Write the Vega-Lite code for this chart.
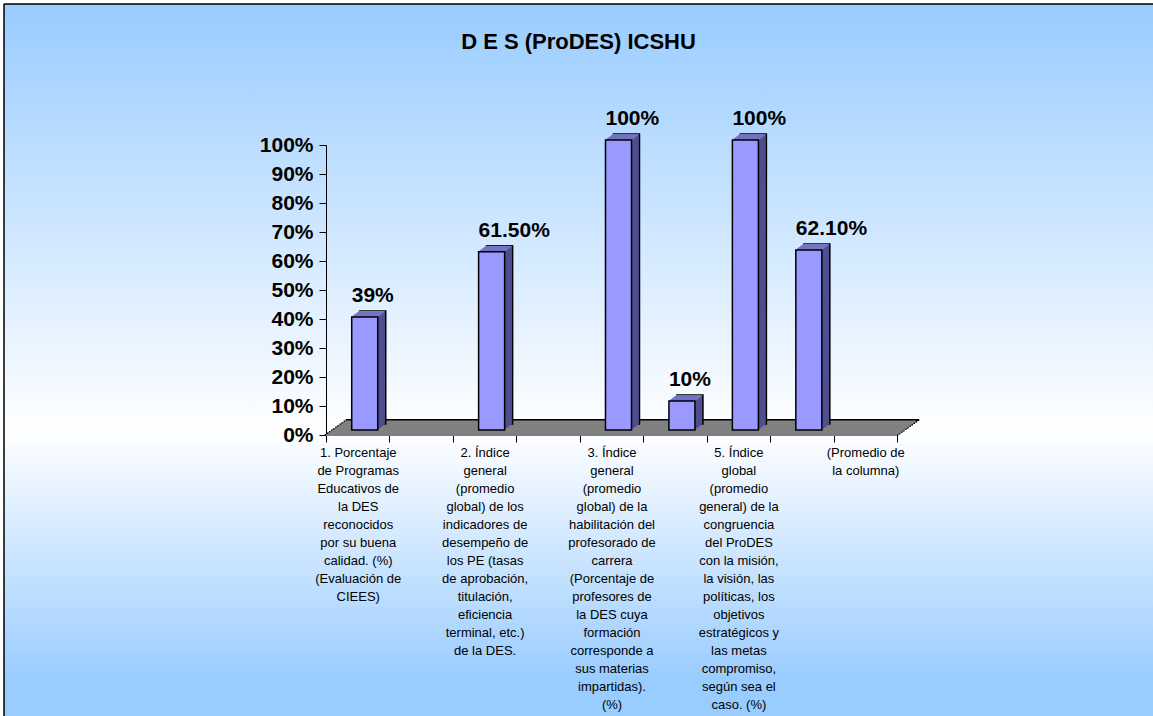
{
"$schema": "https://vega.github.io/schema/vega-lite/v6.json",
"width": 1149, "height": 712,
"autosize": {"type": "none"},
"padding": {"left": 4, "top": 4, "right": 0, "bottom": 0},
"background": "white",
"title": {"text": "D E S (ProDES) ICSHU", "font": "Liberation Sans", "fontSize": 22, "fontWeight": "bold", "color": "black", "anchor": "middle", "offset": -50},
"config": {
 "mark": {"invalid": "break-paths-show-domains"},
 "view": {"fill": {"gradient": "linear", "x1": 0, "y1": 0, "x2": 0, "y2": 1, "stops": [{"offset": 0, "color": "#99CCFF"}, {"offset": 0.6, "color": "#FFFFFF"}, {"offset": 0.95, "color": "#99CCFF"}, {"offset": 1, "color": "#99CCFF"}]}, "stroke": "black", "strokeWidth": 1.5, "strokeDash": [1149, 1861, 712, 0]},
 "axis": {"domainColor": "black", "tickColor": "black", "labelColor": "black", "domainWidth": 1, "tickWidth": 1, "tickSize": 7, "grid": false, "zindex": 1}
},
"data": {"values": [
 {"n": 1, "cat": "1. Porcentaje\nde Programas\nEducativos de\nla DES\nreconocidos\npor su buena\ncalidad. (%)\n(Evaluación de\nCIEES)", "value": 0.39, "label": "39%"},
 {"n": 2, "cat": " ", "value": null, "label": null},
 {"n": 3, "cat": "2. Índice\ngeneral\n(promedio\nglobal)  de los\nindicadores de\ndesempeño de\nlos PE (tasas\nde aprobación,\ntitulación,\neficiencia\nterminal, etc.)\nde la DES.", "value": 0.615, "label": "61.50%"},
 {"n": 4, "cat": "  ", "value": null, "label": null},
 {"n": 5, "cat": "3. Índice\ngeneral\n(promedio\nglobal)  de la\nhabilitación del\nprofesorado de\ncarrera\n(Porcentaje de\nprofesores de\nla DES cuya\nformación\ncorresponde a\nsus materias\nimpartidas).\n(%)", "value": 1.0, "label": "100%"},
 {"n": 6, "cat": "   ", "value": 0.10, "label": "10%"},
 {"n": 7, "cat": "5. Índice\nglobal\n(promedio\ngeneral) de la\ncongruencia\ndel ProDES\ncon la misión,\nla visión, las\npolíticas, los\nobjetivos\nestratégicos y\nlas metas\ncompromiso,\nsegún sea el\ncaso. (%)", "value": 1.0, "label": "100%"},
 {"n": 8, "cat": "    ", "value": 0.621, "label": "62.10%"},
 {"n": 9, "cat": "(Promedio de\nla columna)", "value": null, "label": null}
]},
"encoding": {
 "x": {"field": "cat", "type": "nominal", "sort": {"field": "n", "op": "min", "order": "ascending"}, "title": null,
  "scale": {"range": [322, 893], "paddingInner": 0, "paddingOuter": 0},
  "axis": {"orient": "bottom", "offset": -281, "tickBand": "extent", "labelAngle": 0, "labelFont": "Liberation Sans", "labelFontSize": 13, "labelLineHeight": 18, "labelBaseline": "top", "labelAlign": "center", "labelPadding": 4, "labelOverlap": false, "labelExpr": "split(datum.label, '\\n')"}},
 "y": {"field": "value", "type": "quantitative", "title": null,
  "scale": {"domain": [0, 1], "range": [431, 141], "nice": false, "zero": true},
  "axis": {"offset": -322, "tickCount": 10, "format": ".0%", "labelFont": "Liberation Sans", "labelFontSize": 21, "labelFontWeight": "bold", "labelPadding": 6}}
},
"layer": [
 {"transform": [{"filter": "datum.n == 5"}],
  "encoding": {"y": {"datum": 0, "type": "quantitative", "title": null}},
  "layer": [
  {"mark": {"type": "tick", "orient": "horizontal", "size": 573.5, "thickness": 2.2, "color": "black", "opacity": 1, "xOffset": 21, "yOffset": -15}},
  {"mark": {"type": "tick", "orient": "horizontal", "size": 573.5, "thickness": 2.2, "color": "black", "opacity": 1, "xOffset": 18.9, "yOffset": -13.5}},
  {"mark": {"type": "tick", "orient": "horizontal", "size": 573.5, "thickness": 2.2, "color": "black", "opacity": 1, "xOffset": 16.8, "yOffset": -12}},
  {"mark": {"type": "tick", "orient": "horizontal", "size": 573.5, "thickness": 2.2, "color": "black", "opacity": 1, "xOffset": 14.7, "yOffset": -10.5}},
  {"mark": {"type": "tick", "orient": "horizontal", "size": 573.5, "thickness": 2.2, "color": "black", "opacity": 1, "xOffset": 12.6, "yOffset": -9}},
  {"mark": {"type": "tick", "orient": "horizontal", "size": 573.5, "thickness": 2.2, "color": "black", "opacity": 1, "xOffset": 10.5, "yOffset": -7.5}},
  {"mark": {"type": "tick", "orient": "horizontal", "size": 573.5, "thickness": 2.2, "color": "black", "opacity": 1, "xOffset": 8.4, "yOffset": -6}},
  {"mark": {"type": "tick", "orient": "horizontal", "size": 573.5, "thickness": 2.2, "color": "black", "opacity": 1, "xOffset": 6.3, "yOffset": -4.5}},
  {"mark": {"type": "tick", "orient": "horizontal", "size": 573.5, "thickness": 2.2, "color": "black", "opacity": 1, "xOffset": 4.2, "yOffset": -3}},
  {"mark": {"type": "tick", "orient": "horizontal", "size": 573.5, "thickness": 2.2, "color": "black", "opacity": 1, "xOffset": 2.1, "yOffset": -1.5}},
  {"mark": {"type": "tick", "orient": "horizontal", "size": 573.5, "thickness": 2.2, "color": "black", "opacity": 1, "xOffset": 0, "yOffset": 0}},
  {"mark": {"type": "tick", "orient": "horizontal", "size": 571, "thickness": 2.2, "color": "#808080", "opacity": 1, "xOffset": 18.9, "yOffset": -13.5}},
  {"mark": {"type": "tick", "orient": "horizontal", "size": 571, "thickness": 2.2, "color": "#808080", "opacity": 1, "xOffset": 16.8, "yOffset": -12}},
  {"mark": {"type": "tick", "orient": "horizontal", "size": 571, "thickness": 2.2, "color": "#808080", "opacity": 1, "xOffset": 14.7, "yOffset": -10.5}},
  {"mark": {"type": "tick", "orient": "horizontal", "size": 571, "thickness": 2.2, "color": "#808080", "opacity": 1, "xOffset": 12.6, "yOffset": -9}},
  {"mark": {"type": "tick", "orient": "horizontal", "size": 571, "thickness": 2.2, "color": "#808080", "opacity": 1, "xOffset": 10.5, "yOffset": -7.5}},
  {"mark": {"type": "tick", "orient": "horizontal", "size": 571, "thickness": 2.2, "color": "#808080", "opacity": 1, "xOffset": 8.4, "yOffset": -6}},
  {"mark": {"type": "tick", "orient": "horizontal", "size": 571, "thickness": 2.2, "color": "#808080", "opacity": 1, "xOffset": 6.3, "yOffset": -4.5}},
  {"mark": {"type": "tick", "orient": "horizontal", "size": 571, "thickness": 2.2, "color": "#808080", "opacity": 1, "xOffset": 4.2, "yOffset": -3}},
  {"mark": {"type": "tick", "orient": "horizontal", "size": 571, "thickness": 2.2, "color": "#808080", "opacity": 1, "xOffset": 2.1, "yOffset": -1.5}},
  {"mark": {"type": "tick", "orient": "horizontal", "size": 571, "thickness": 2.2, "color": "#808080", "opacity": 1, "xOffset": 0, "yOffset": 0}}
 ]},
 {"mark": {"type": "bar", "width": {"band": 0.41}, "color": "#4F4F8F", "stroke": "black", "strokeWidth": 1.5, "xOffset": 15, "x2Offset": 15, "yOffset": -11, "y2Offset": -11}},
 {"mark": {"type": "bar", "width": {"band": 0.41}, "color": "#4F4F8F", "xOffset": 14, "x2Offset": 14, "yOffset": -10.25, "y2Offset": -10.25}},
 {"mark": {"type": "bar", "width": {"band": 0.41}, "color": "#4F4F8F", "xOffset": 13, "x2Offset": 13, "yOffset": -9.5, "y2Offset": -9.5}},
 {"mark": {"type": "bar", "width": {"band": 0.41}, "color": "#4F4F8F", "xOffset": 12, "x2Offset": 12, "yOffset": -8.75, "y2Offset": -8.75}},
 {"mark": {"type": "bar", "width": {"band": 0.41}, "color": "#4F4F8F", "xOffset": 11, "x2Offset": 11, "yOffset": -8, "y2Offset": -8}},
 {"mark": {"type": "bar", "width": {"band": 0.41}, "color": "#4F4F8F", "xOffset": 10, "x2Offset": 10, "yOffset": -7.25, "y2Offset": -7.25}},
 {"mark": {"type": "bar", "width": {"band": 0.41}, "color": "#4F4F8F", "xOffset": 9, "x2Offset": 9, "yOffset": -6.5, "y2Offset": -6.5}},
 {"mark": {"type": "bar", "width": {"band": 0.41}, "color": "#4F4F8F", "xOffset": 8, "x2Offset": 8, "yOffset": -5.75, "y2Offset": -5.75}},
 {"mark": {"type": "tick", "orient": "horizontal", "size": 26, "thickness": 1.3, "color": "#7575C5", "opacity": 1, "xOffset": 14, "yOffset": -10.25}},
 {"mark": {"type": "tick", "orient": "horizontal", "size": 26, "thickness": 1.3, "color": "#7575C5", "opacity": 1, "xOffset": 13, "yOffset": -9.5}},
 {"mark": {"type": "tick", "orient": "horizontal", "size": 26, "thickness": 1.3, "color": "#7575C5", "opacity": 1, "xOffset": 12, "yOffset": -8.75}},
 {"mark": {"type": "tick", "orient": "horizontal", "size": 26, "thickness": 1.3, "color": "#7575C5", "opacity": 1, "xOffset": 11, "yOffset": -8}},
 {"mark": {"type": "tick", "orient": "horizontal", "size": 26, "thickness": 1.3, "color": "#7575C5", "opacity": 1, "xOffset": 10, "yOffset": -7.25}},
 {"mark": {"type": "tick", "orient": "horizontal", "size": 26, "thickness": 1.3, "color": "#7575C5", "opacity": 1, "xOffset": 9, "yOffset": -6.5}},
 {"mark": {"type": "tick", "orient": "horizontal", "size": 26, "thickness": 1.3, "color": "#7575C5", "opacity": 1, "xOffset": 8, "yOffset": -5.75}},
 {"mark": {"type": "bar", "width": {"band": 0.41}, "color": "#9999FF", "stroke": "black", "strokeWidth": 1.5, "xOffset": 7, "x2Offset": 7, "yOffset": -5, "y2Offset": -5}},
 {"mark": {"type": "text", "align": "left", "baseline": "alphabetic", "font": "Liberation Sans", "fontSize": 21, "fontWeight": "bold", "color": "black", "xOffset": -6, "yOffset": -20}, "encoding": {"text": {"field": "label", "type": "nominal"}}}
]
}
